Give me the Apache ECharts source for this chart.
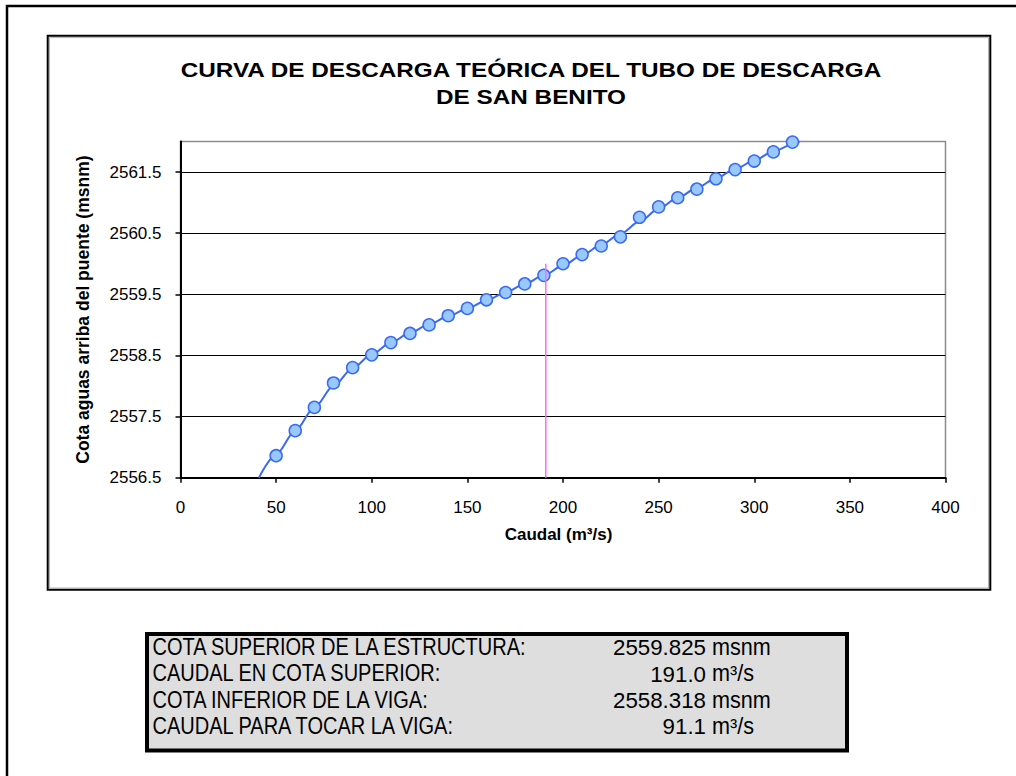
<!DOCTYPE html>
<html>
<head>
<meta charset="utf-8">
<script src="https://cdn.jsdelivr.net/npm/echarts@6/dist/echarts.min.js"></script>
<style>
html,body{margin:0;padding:0;background:#fff;}
#c{width:1016px;height:776px;}
</style>
</head>
<body>
<div id="c"></div>
<script>
// ---------- data ----------
const flowQ  = [50,60,70,80,90,100,110,120,130,140,150,160,170,180,190,200,210,220,230,240,250,260,270,280,290,300,310,320];
const levelH = [2556.86,2557.27,2557.65,2558.05,2558.30,2558.51,2558.71,2558.86,2559.00,2559.15,2559.27,2559.41,2559.53,2559.67,2559.81,2560.00,2560.15,2560.29,2560.44,2560.76,2560.93,2561.08,2561.22,2561.39,2561.54,2561.68,2561.83,2561.99];
const trendQ = [41,50,60,70,80,90,100,110,120,130,140,150,160,170,180,190,200,210,220,230,240,250,260,270,280,290,300,310,320,323.7];
const trendH = [2556.50,2556.88,2557.27,2557.65,2558.00,2558.29,2558.52,2558.71,2558.87,2559.01,2559.14,2559.27,2559.40,2559.53,2559.67,2559.81,2559.97,2560.14,2560.31,2560.49,2560.69,2560.90,2561.08,2561.24,2561.40,2561.55,2561.69,2561.84,2561.95,2562.00];
const refQ = 191.0;
const refH = [2556.5, 2560.0];
const xTicks = [0,50,100,150,200,250,300,350,400];
const yTicks = [2556.5,2557.5,2558.5,2559.5,2560.5,2561.5];
const yTop = 2562;
const titleLines = ['CURVA DE DESCARGA TEÓRICA DEL TUBO DE DESCARGA','DE SAN BENITO'];
const xName = 'Caudal (m³/s)';
const yName = 'Cota aguas arriba del puente (msnm)';
const tableLabels = ['COTA SUPERIOR DE LA ESTRUCTURA:','CAUDAL EN COTA SUPERIOR:','COTA INFERIOR DE LA VIGA:','CAUDAL PARA TOCAR LA VIGA:'];
const tableValues = ['2559.825','191.0','2558.318','91.1'];
const tableUnits  = ['msnm','m³/s','msnm','m³/s'];

// ---------- chart ----------
const FONT = '"Liberation Sans", Arial, sans-serif';
const chart = echarts.init(document.getElementById('c'), null, {renderer:'svg'});

const graphics = [
  {type:'rect', shape:{x:7, y:6, width:1100, height:900}, style:{fill:'none', stroke:'#000', lineWidth:2.5}, silent:true},
  {type:'rect', shape:{x:47.7, y:35.8, width:942.6, height:554}, style:{fill:'none', stroke:'#000', lineWidth:2}, silent:true},
  {type:'rect', shape:{x:49.5, y:37.6, width:939, height:550.4}, style:{fill:'none', stroke:'#a0a0a0', lineWidth:0.8}, silent:true},
  {type:'rect', shape:{x:147, y:634, width:700, height:116.5}, style:{fill:'#dedede', stroke:'#000', lineWidth:4}, silent:true}
];
titleLines.forEach((t,i)=>{
  graphics.push({type:'text', x:531, y:70 + i*27.5, scaleX:1.215, silent:true,
    style:{text:t, font:'bold 20px ' + FONT, fill:'#000', align:'center', verticalAlign:'middle'}});
});
tableLabels.forEach((t,i)=>{
  const y = 647 + i*26.4;
  graphics.push({type:'text', x:152.5, y:y, scaleX:0.87, silent:true,
    style:{text:t, font:'23px ' + FONT, fill:'#000', align:'left', verticalAlign:'middle'}});
  graphics.push({type:'text', x:706, y:y, scaleX:0.97, silent:true,
    style:{text:tableValues[i], font:'23px ' + FONT, fill:'#000', align:'right', verticalAlign:'middle'}});
  graphics.push({type:'text', x:712, y:y, scaleX:0.94, silent:true,
    style:{text:tableUnits[i], font:'23px ' + FONT, fill:'#000', align:'left', verticalAlign:'middle'}});
});

const option = {
  backgroundColor:'#fff',
  animation:false,
  textStyle:{fontFamily:FONT},
  grid:{left:180.5, right:70.5, top:141.5, bottom:298.3, show:true, borderColor:'#8c8c8c', borderWidth:1.5, backgroundColor:'transparent', outerBoundsMode:'none'},
  xAxis:{
    type:'value', min:xTicks[0], max:xTicks[xTicks.length-1], interval:xTicks[1]-xTicks[0],
    axisLine:{show:true, onZero:false, lineStyle:{color:'#000', width:2}},
    axisTick:{show:true, length:5, lineStyle:{color:'#000', width:1.5}},
    axisLabel:{fontSize:17, color:'#000', margin:21, fontFamily:FONT},
    splitLine:{show:false},
    name:xName, nameLocation:'middle', nameGap:48,
    nameTextStyle:{fontWeight:'bold', fontSize:17, color:'#000', fontFamily:FONT, padding:[0,9,0,0]}
  },
  yAxis:{
    type:'value', min:yTicks[0], max:yTop, interval:yTicks[1]-yTicks[0],
    axisLine:{show:true, onZero:false, lineStyle:{color:'#000', width:2}},
    axisTick:{show:true, length:5, customValues:yTicks, lineStyle:{color:'#000', width:1.5}},
    axisLabel:{customValues:yTicks, fontSize:17, color:'#000', margin:19, fontFamily:FONT, formatter:v=>v.toFixed(1)},
    splitLine:{show:true, lineStyle:{color:['#000','#000','#000','#000','#000','#000','#8c8c8c'], width:1}},
    name:yName, nameLocation:'middle', nameGap:89,
    nameTextStyle:{fontWeight:'bold', fontSize:17.5, color:'#000', fontFamily:FONT}
  },
  graphic:graphics,
  series:[
    {type:'line', data:trendQ.map((q,i)=>[q,trendH[i]]), showSymbol:false, smooth:0.3, smoothMonotone:'x',
     lineStyle:{color:'#3a6af2', width:2}, z:2, silent:true},
    {type:'scatter', data:flowQ.map((q,i)=>[q,levelH[i]]), symbol:'circle', symbolSize:12,
     itemStyle:{color:'#99c9fc', borderColor:'#3a6af2', borderWidth:1.5, opacity:1}, z:3, silent:true},
    {type:'line', data:refH.map(h=>[refQ,h]), showSymbol:false, lineStyle:{color:'#ff66ff', width:1.5}, z:4, silent:true}
  ]
};
chart.setOption(option);
</script>
</body>
</html>
